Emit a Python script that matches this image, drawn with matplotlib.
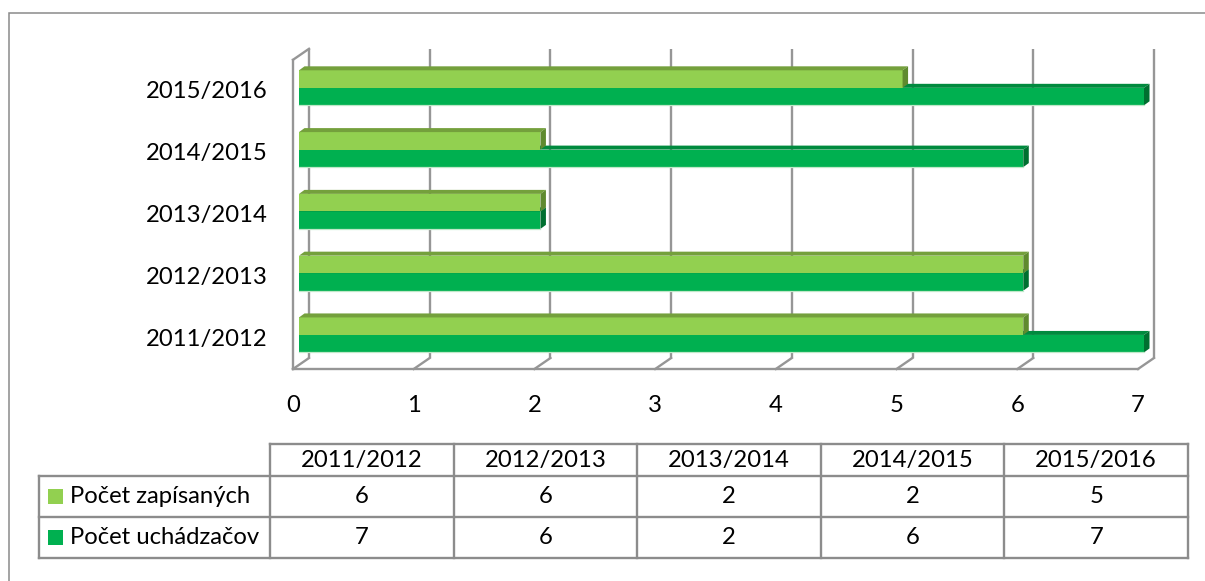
import matplotlib
matplotlib.use("Agg")
import matplotlib.pyplot as plt
from matplotlib.patches import Polygon, Rectangle
import numpy as np

# ---------------- data ----------------
categories = ["2011/2012", "2012/2013", "2013/2014", "2014/2015", "2015/2016"]
series_names = ["Počet zapísaných", "Počet uchádzačov"]
zapisanych = [6, 6, 2, 2, 5]
uchadzacov = [7, 6, 2, 6, 7]
x_ticks = [0, 1, 2, 3, 4, 5, 6, 7]

# ---------------- style ----------------
plt.rcParams['font.family'] = ['Lato', 'DejaVu Sans']
FS = 17.2
LIGHT, LIGHT_TOP, LIGHT_SIDE = "#92D050", "#74A03C", "#5F8A2F"
DARK, DARK_TOP, DARK_SIDE = "#00B050", "#008A3E", "#006F30"
GRID = "#969696"
TAB = "#8c8c8c"

W, H = 1205, 581
fig = plt.figure(figsize=(W / 100, H / 100), dpi=100)
fig.patch.set_facecolor("white")

# outer chart frame (only left/top visible within picture)
fig.add_artist(Rectangle((9 / W, -0.2), 1.5, (1 - 13 / H) + 0.2, fill=False,
                         ec="#8a8a8a", lw=1.1, transform=fig.transFigure))

# ---------------- main (3D-looking) bar plot ----------------
left_px, right_px, top_px, bot_px = 299, 1144, 55.7, 364.9
ax = fig.add_axes([left_px / W, 1 - bot_px / H, (right_px - left_px) / W, (bot_px - top_px) / H])
ax.set_xlim(0, 7)
ax.set_ylim(-0.485, 4.52)
ax.axis("off")

ppx = (right_px - left_px) / 7.0
ppy = (bot_px - top_px) / (4.52 + 0.485)

def off(dx_px, dy_px):
    """pixel depth offset -> data offset (image y down)"""
    return dx_px / ppx, -dy_px / ppy

fdx, fdy = off(-6, 4.1)      # front floor edge
bdx, bdy = off(10, -6.9)     # back wall
ddx, ddy = off(5.5, -4.0)    # bar depth

y0, y1 = ax.get_ylim()
GLW = 1.7

# back wall grid lines
for k in x_ticks:
    ax.plot([k + bdx, k + bdx], [y0 + bdy, y1 + bdy], color=GRID, lw=GLW,
            zorder=1, clip_on=False, solid_capstyle="butt")
# floor: front line + diagonals
ax.plot([x_ticks[0] + fdx, x_ticks[-1] + fdx], [y0 + fdy, y0 + fdy], color=GRID,
        lw=GLW, zorder=1, clip_on=False)
for k in x_ticks:
    ax.plot([k + fdx, k + bdx], [y0 + fdy, y0 + bdy], color=GRID, lw=GLW,
            zorder=1, clip_on=False)
# left wall
ax.plot([fdx, fdx], [y0 + fdy, y1 + fdy], color=GRID, lw=GLW, zorder=1, clip_on=False)
ax.plot([fdx, bdx], [y1 + fdy, y1 + bdy], color=GRID, lw=GLW, zorder=1, clip_on=False)

# bars
ypos = np.arange(len(categories))
bh = 17.5 / ppy

def bar3d(yc, v, face, top, side, z, edge=None):
    ax.barh(yc, v, height=bh, left=0, color=face, edgecolor="none", zorder=z)
    yt, yb = yc + bh / 2, yc - bh / 2
    ax.add_patch(Polygon([(0, yt), (v, yt), (v + ddx, yt + ddy), (ddx, yt + ddy)],
                         closed=True, fc=top, ec="none", zorder=z, clip_on=False))
    ax.add_patch(Polygon([(v, yb), (v + ddx, yb + ddy), (v + ddx, yt + ddy), (v, yt)],
                         closed=True, fc=side, ec="none", zorder=z, clip_on=False))
    if edge:
        ax.plot([0, v], [yb, yb], color=edge, lw=0.9, zorder=z + 0.1, clip_on=False)

for i in range(len(categories)):
    bar3d(ypos[i] - bh / 2, uchadzacov[i], DARK, DARK_TOP, DARK_SIDE, 3 + i * 0.01,
          edge="#bfe8c8")
    bar3d(ypos[i] + bh / 2, zapisanych[i], LIGHT, LIGHT_TOP, LIGHT_SIDE, 3.5 + i * 0.01)

# category labels (at front plane)
for i, c in enumerate(categories):
    ax.text(-31 / ppx, ypos[i] + fdy, c, ha="right", va="center", fontsize=FS,
            color="black", clip_on=False)
# x tick labels
for k in x_ticks:
    ax.text(k + fdx, y0 + fdy - 36 / ppy, str(k), ha="center", va="center",
            fontsize=FS, color="black", clip_on=False)

# ---------------- data table ----------------
t_left, t_right, t_top, t_bot = 39, 1188, 444, 558
tax = fig.add_axes([t_left / W, 1 - t_bot / H, (t_right - t_left) / W, (t_bot - t_top) / H])
tw, th = t_right - t_left, t_bot - t_top
tax.set_xlim(0, tw)
tax.set_ylim(th, 0)
tax.axis("off")

first_w = 270 - t_left
ncol = len(categories)
col_w = (tw - first_w) / ncol
row_edges = [0, 32, 73, th]
col_edges = [0] + [first_w + j * col_w for j in range(ncol + 1)]

lw_t = 1.7
# horizontal lines
tax.plot([first_w, tw], [row_edges[0]] * 2, color=TAB, lw=lw_t, clip_on=False)
for r in row_edges[1:]:
    tax.plot([0, tw], [r, r], color=TAB, lw=lw_t, clip_on=False)
# vertical lines
tax.plot([0, 0], [row_edges[1], th], color=TAB, lw=lw_t, clip_on=False)
for cx in col_edges[1:]:
    tax.plot([cx, cx], [0, th], color=TAB, lw=lw_t, clip_on=False)

# header
for j, c in enumerate(categories):
    tax.text(first_w + (j + 0.5) * col_w, (row_edges[0] + row_edges[1]) / 2 + 1, c,
             ha="center", va="center", fontsize=FS)
# rows
rows = [zapisanych, uchadzacov]
keys = [LIGHT, DARK]
for r, (name, vals, kc) in enumerate(zip(series_names, rows, keys)):
    yc = (row_edges[r + 1] + row_edges[r + 2]) / 2
    tax.add_patch(Rectangle((9, yc - 7.5), 15, 15, fc=kc, ec="none"))
    tax.text(31, yc, name, ha="left", va="center", fontsize=FS)
    for j, v in enumerate(vals):
        tax.text(first_w + (j + 0.5) * col_w, yc, str(v), ha="center", va="center",
                 fontsize=FS)

fig.savefig("out.png", dpi=100, facecolor="white")
